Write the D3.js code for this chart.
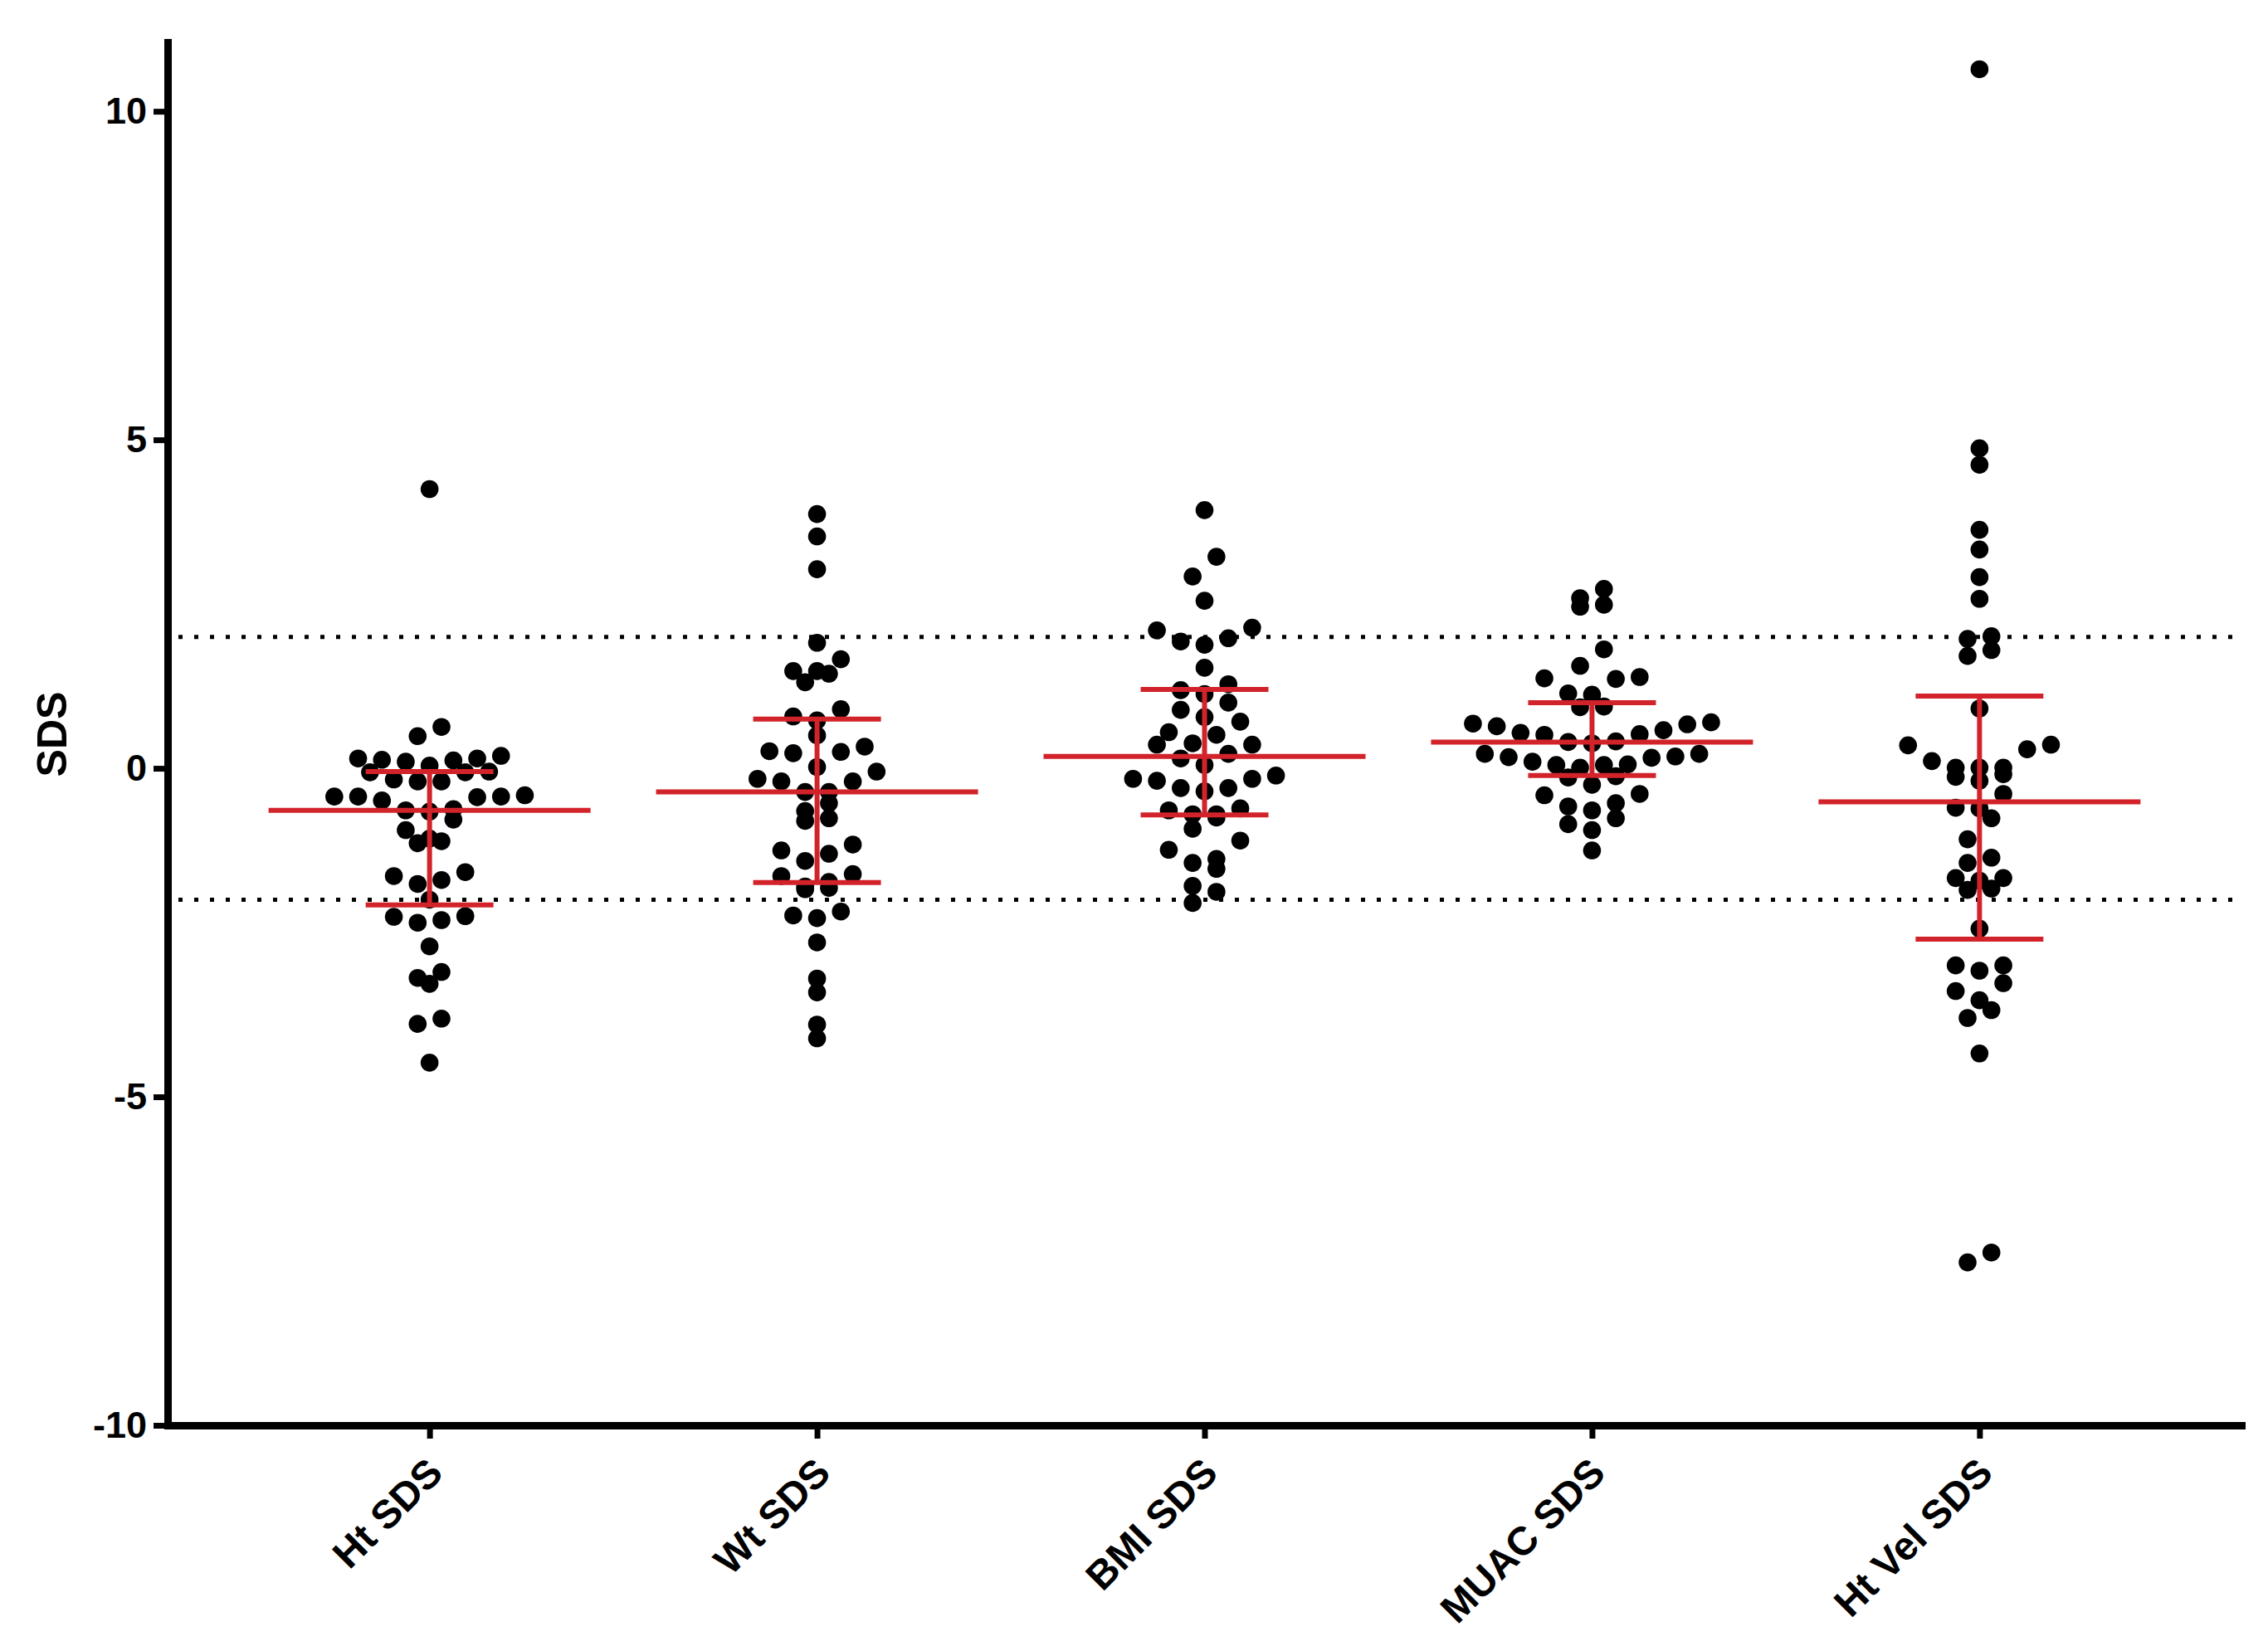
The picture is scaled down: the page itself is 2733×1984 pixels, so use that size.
<!DOCTYPE html>
<html>
<head>
<meta charset="utf-8">
<script src="https://cdn.jsdelivr.net/npm/d3@7"></script>
<style>
  body { margin: 0; background: #fff; }
  svg { display: block; font-family: "Liberation Sans", Arial, sans-serif; font-weight: bold; }
</style>
</head>
<body>
<svg id="chart"></svg>
<script>
const categories = ["Ht SDS", "Wt SDS", "BMI SDS", "MUAC SDS", "Ht Vel SDS"];

const htSDS = [4.25, 0.63, 0.49, 0.15, 0.13, 0.10, 0.04, 0.12, 0.15, 0.19, -0.05, -0.06, -0.06, -0.20, -0.20, -0.17,
  -0.41, -0.43, -0.44, -0.49, -0.43, -0.43, -0.62, -0.66, -0.64, -0.78, -1.07, -1.14, -1.11, -0.94, -1.58, -1.70,
  -1.76, -1.64, -2.00, -2.25, -2.31, -2.35, -2.26, -2.71, -3.10, -3.28, -3.19, -3.81, -3.89, -4.48];
const wtSDS = [3.87, 3.53, 3.03, 1.91, 1.48, 1.44, 1.31, 1.48, 1.66, 0.90, 0.73, 0.79, 0.50, 0.33, 0.25, 0.23, 0.26,
  -0.05, 0.02, -0.20, -0.20, -0.16, -0.36, -0.36, -0.53, -0.65, -0.80, -0.76, -1.16, -1.30, -1.41, -1.25, -1.64,
  -1.61, -1.80, -1.84, -1.82, -1.73, -2.24, -2.28, -2.18, -2.65, -3.20, -3.41, -3.90, -4.11];
const bmiSDS = [3.93, 3.22, 2.92, 2.55, 2.14, 2.10, 1.98, 1.88, 1.93, 1.53, 1.28, 1.13, 1.19, 1.00, 0.89, 0.71, 0.78,
  0.51, 0.55, 0.38, 0.36, 0.36, 0.15, 0.22, 0.05, -0.11, -0.16, -0.16, -0.19, -0.30, -0.35, -0.30, -0.64, -0.70,
  -0.75, -0.70, -0.61, -0.92, -1.10, -1.24, -1.44, -1.53, -1.38, -1.79, -1.88, -2.05];
const muacSDS = [2.73, 2.59, 2.46, 2.49, 1.81, 1.56, 1.39, 1.37, 1.36, 1.14, 1.12, 0.94, 0.93, 0.70, 0.67, 0.58, 0.52,
  0.41, 0.38, 0.40, 0.51, 0.54, 0.64, 0.68, 0.22, 0.17, 0.16, 0.05, 0.05, 0.01, 0.06, 0.10, 0.18, 0.22, -0.12, -0.14,
  -0.25, -0.41, -0.39, -0.53, -0.58, -0.64, -0.76, -0.85, -0.94, -1.25];
const htVelSDS = [10.64, 4.87, 4.62, 3.63, 3.33, 2.91, 2.58, 1.97, 2.01, 1.71, 1.80, 0.91, 0.36, 0.29, 0.35, 0.01, 0.01,
  -0.13, -0.19, -0.09, 0.01, 0.11, -0.39, -0.60, -0.61, -0.76, -1.08, -1.36, -1.44, -1.67, -1.71, -1.67, -1.85, -1.83,
  -2.44, -3.00, -3.00, -3.08, -3.27, -3.53, -3.39, -3.68, -3.80, -4.34, -7.52, -7.37];

const seriesValues = [htSDS, wtSDS, bmiSDS, muacSDS, htVelSDS];
const medians = [-0.64, -0.36, 0.18, 0.40, -0.51];
const lowerQuartiles = [-2.08, -1.74, -0.71, -0.11, -2.60];
const upperQuartiles = [-0.05, 0.75, 1.20, 1.00, 1.10];
const referenceLines = [2, -2];
const yTicks = [-10, -5, 0, 5, 10];

const WIDTH = 2733, HEIGHT = 1984;
const RED = "#d2232a";
const SLOT = 14.35, ROW = 28.7, R = 10.8;

const svg = d3.select("#chart").attr("width", WIDTH).attr("height", HEIGHT);

const yScale = d3.scaleLinear().domain([-10, 11.05]).range([1718, 51]);
const xScale = d3.scalePoint().domain(categories).range([202, 2701]).padding(0.676);

// dotted +-2 lines
svg.append("g").selectAll("line")
  .data(referenceLines)
  .join("line")
    .attr("x1", 215).attr("x2", 2692)
    .attr("y1", d => yScale(d)).attr("y2", d => yScale(d))
    .attr("stroke", "#000")
    .attr("stroke-width", 5)
    .attr("stroke-dasharray", "5 14");

// prism-like scatter: bin by row, spread each row out from the centre
function swarm(values) {
  const y0 = yScale(0);
  const bins = d3.group(values, v => Math.floor((y0 - yScale(v)) / ROW));
  const pts = [];
  bins.forEach(vs => {
    const sorted = vs.slice().sort(d3.ascending);
    const n = sorted.length;
    sorted.forEach((v, i) => {
      let k;
      if (n % 2) k = i === 0 ? 0 : (i % 2 ? -1 : 1) * Math.ceil(i / 2) * 2;
      else k = (i % 2 ? 1 : -1) * (Math.floor(i / 2) * 2 + 1);
      pts.push({v, dx: k * SLOT});
    });
  });
  return pts;
}

categories.forEach((cat, ci) => {
  const cx = xScale(cat);
  svg.append("g").selectAll("circle")
    .data(swarm(seriesValues[ci]))
    .join("circle")
      .attr("cx", d => cx + d.dx)
      .attr("cy", d => yScale(d.v))
      .attr("r", R)
      .attr("fill", "#000");
});

// median + interquartile range
const stats = svg.append("g").attr("stroke", RED).attr("stroke-width", 6);
categories.forEach((cat, ci) => {
  const cx = xScale(cat);
  stats.append("line")
    .attr("x1", cx).attr("x2", cx)
    .attr("y1", yScale(lowerQuartiles[ci])).attr("y2", yScale(upperQuartiles[ci]));
  [lowerQuartiles[ci], upperQuartiles[ci]].forEach(q => {
    stats.append("line")
      .attr("x1", cx - 77).attr("x2", cx + 77)
      .attr("y1", yScale(q)).attr("y2", yScale(q));
  });
  stats.append("line")
    .attr("x1", cx - 194).attr("x2", cx + 194)
    .attr("y1", yScale(medians[ci])).attr("y2", yScale(medians[ci]));
});

// axes
const yAxis = svg.append("g")
  .attr("transform", "translate(202,0)")
  .call(d3.axisLeft(yScale).tickValues(yTicks).tickFormat(d => String(d))
    .tickSize(17).tickPadding(8).tickSizeOuter(0));
yAxis.attr("font-size", 45).attr("font-family", null);
yAxis.select(".domain").attr("stroke-width", 9).attr("stroke-linecap", "square");
yAxis.selectAll(".tick line").attr("stroke-width", 7);

const xAxis = svg.append("g")
  .attr("transform", "translate(0,1718)")
  .call(d3.axisBottom(xScale).tickSize(16).tickSizeOuter(0));
xAxis.attr("font-size", 48).attr("font-family", null);
xAxis.select(".domain").attr("stroke-width", 9).attr("stroke-linecap", "square");
xAxis.selectAll(".tick line").attr("stroke-width", 7);
xAxis.selectAll(".tick text")
  .attr("x", null).attr("y", null).attr("dy", null)
  .attr("text-anchor", "end")
  .attr("transform", "translate(18,60) rotate(-45)");

svg.append("text")
  .attr("transform", "translate(80,885) rotate(-90)")
  .attr("text-anchor", "middle")
  .attr("font-size", 50)
  .text("SDS");
</script>
</body>
</html>
